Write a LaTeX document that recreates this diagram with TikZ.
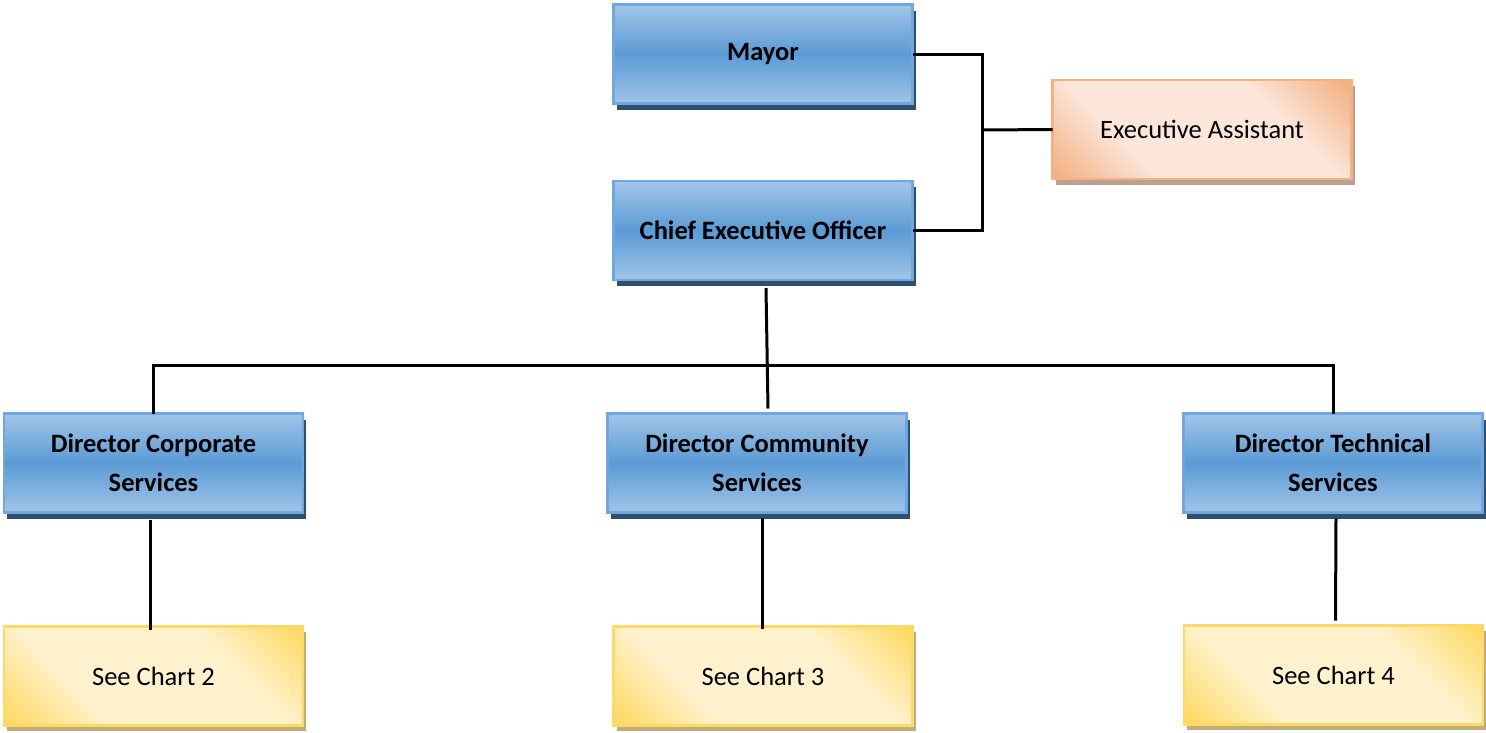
\documentclass[tikz,border=0pt]{standalone}
\usepackage{fontspec}
\setmainfont{Carlito}
\usetikzlibrary{calc,shadows}
\definecolor{bl}{HTML}{A2C5E8}
\definecolor{bd}{HTML}{5B9BD5}
\definecolor{bborder}{HTML}{6EA8DD}
\definecolor{bshadow}{HTML}{2E4F6E}
\definecolor{ygold}{HTML}{FFD966}
\definecolor{ycream}{HTML}{FFF2CC}
\definecolor{yshadow}{HTML}{BFAE7C}
\definecolor{ogold}{HTML}{F4B183}
\definecolor{ocream}{HTML}{FCE6DA}
\definecolor{oshadow}{HTML}{BCA092}
\pgfdeclareverticalshading{blueshade}{100bp}{color(0bp)=(bl); color(25bp)=(bl); color(50bp)=(bd); color(75bp)=(bl); color(100bp)=(bl)}
\pgfdeclareverticalshading{yelshade}{100bp}{color(0bp)=(ygold); color(16bp)=(ygold); color(34bp)=(ycream); color(66bp)=(ycream); color(84bp)=(ygold); color(100bp)=(ygold)}
\pgfdeclareverticalshading{orgshade}{100bp}{color(0bp)=(ogold); color(16bp)=(ogold); color(34bp)=(ocream); color(66bp)=(ocream); color(84bp)=(ogold); color(100bp)=(ogold)}
\tikzset{
  box/.style={rectangle, minimum width=299pt, minimum height=99pt, inner sep=0pt, outer sep=0pt, line width=2.5pt, align=center, text=black},
  bluebox/.style={box, draw=bborder, shading=blueshade, font=\bfseries\fontsize{26.5}{39}\selectfont,
    drop shadow={shadow xshift=3pt, shadow yshift=-6pt, fill=bshadow, opacity=1}},
  yelbox/.style={box, draw=ygold, shading=yelshade, shading angle=-45, font=\fontsize{26.5}{32}\selectfont,
    drop shadow={shadow xshift=3pt, shadow yshift=-5pt, fill=yshadow, opacity=1}},
  orgbox/.style={box, draw=ogold, shading=orgshade, shading angle=-45, font=\fontsize{26.5}{32}\selectfont,
    drop shadow={shadow xshift=3pt, shadow yshift=-6pt, fill=oshadow, opacity=1}},
  link/.style={draw=black, line width=3pt}
}
\begin{document}
\begin{tikzpicture}[x=1pt, y=-1pt]
\useasboundingbox (0,0) rectangle (1486,732);
\node[bluebox] (mayor) at (763,54) {Mayor};
\node[bluebox] (ceo) at (763,230.5) {Chief Executive Officer};
\node[orgbox] (ea) at (1202,129.5) {Executive Assistant};
\node[bluebox] (dcorp) at (153.5,463) {Director Corporate\\Services};
\node[bluebox] (dcom) at (757,463) {Director Community\\Services};
\node[bluebox] (dtech) at (1333,463) {Director Technical\\Services};
\node[yelbox] (c2) at (153.5,676) {See Chart 2};
\node[yelbox] (c3) at (763,676) {See Chart 3};
\node[yelbox] (c4) at (1333.5,675) {See Chart 4};
% connectors
\coordinate (j1) at (982,130);
\coordinate (bus) at (766,365);
\draw[link] (mayor.east) -| (j1) |- (ceo.east);
\draw[link] (j1) -- (ea.west);
\draw[link] ($(ceo.south)+(3,8)$) -- ($(dcom.north)+(11,-5)$);
\draw[link] (dcorp.north) |- (bus) -| (dtech.north);
\draw[link] ($(dcorp.south)+(-3,7)$) -- ($(c2.north)+(-3,3)$);
\draw[link] ($(dcom.south)+(5,5)$) -- ($(c3.north)+(-1,2)$);
\draw[link] ($(dtech.south)+(3,6)$) -- ($(c4.north)+(2,-5)$);
\end{tikzpicture}
\end{document}
